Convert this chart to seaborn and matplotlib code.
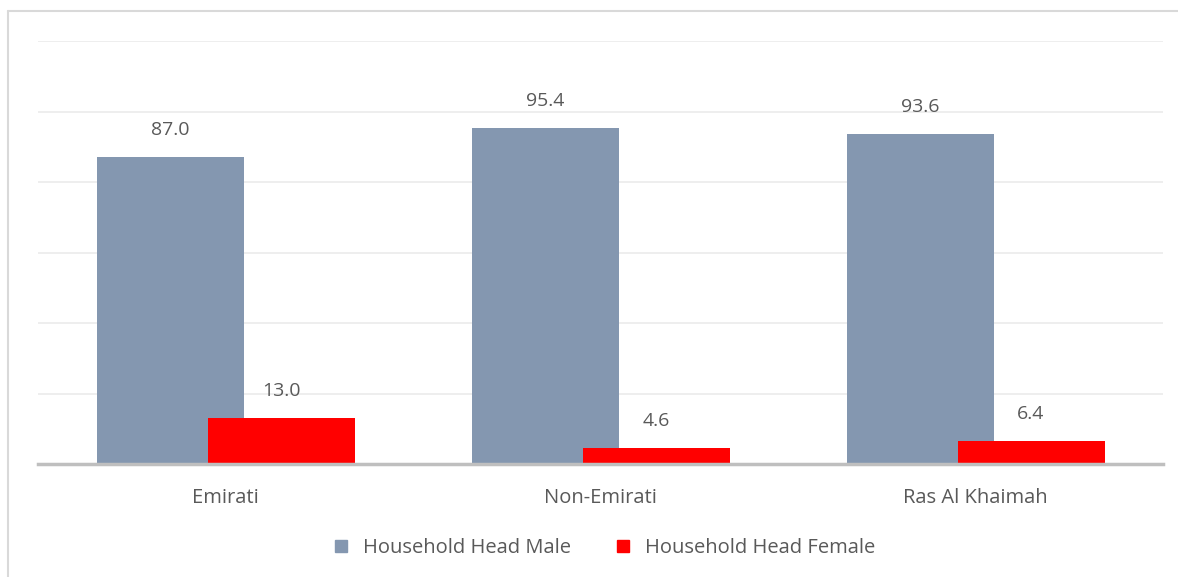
import numpy as np
import pandas as pd
import matplotlib
matplotlib.use("Agg")
import matplotlib.pyplot as plt
import seaborn as sns
from matplotlib.patches import Patch
from matplotlib.lines import Line2D

# data
categories = ["Emirati", "Non-Emirati", "Ras Al Khaimah"]
male = [87.0, 95.4, 93.6]
female = [13.0, 4.6, 6.4]
series_names = ["Household Head Male", "Household Head Female"]

male_color = "#8497B0"
female_color = "#FF0000"
text_color = "#595959"

sns.set_theme(style="white")
plt.rcParams["font.family"] = ["Open Sans", "DejaVu Sans"]

fig = plt.figure(figsize=(11.78, 5.77), dpi=100)
fig.patch.set_linewidth(0)
ax = fig.add_axes([38 / 1178, 1 - 464 / 577, (1163 - 38) / 1178, (464 - 41) / 577])

pos = np.arange(len(categories))
offset = 0.148
bar_w = 0.392

df_m = pd.DataFrame({"x": pos - offset, "y": male})
df_f = pd.DataFrame({"x": pos + offset, "y": female})

sns.barplot(data=df_m, x="x", y="y", native_scale=True, width=bar_w,
            color=male_color, saturation=1, linewidth=0, ax=ax)
sns.barplot(data=df_f, x="x", y="y", native_scale=True, width=bar_w,
            color=female_color, saturation=1, linewidth=0, ax=ax)

for cont in ax.containers:
    ax.bar_label(cont, fmt="%.1f", padding=13, fontsize=14, color=text_color)

ax.set_xlim(-0.5, 2.5)
ax.set_ylim(0, 120)
ax.set_yticks(np.arange(0, 121, 20))
ax.set_yticklabels([])
ax.tick_params(axis="y", length=0)
ax.yaxis.grid(True, color="#EBEBEB", linewidth=1.2)
ax.set_axisbelow(True)
ax.set_xticks(pos)
ax.set_xticklabels(categories, fontsize=14.5, color=text_color)
ax.tick_params(axis="x", length=0, pad=17)
ax.set_xlabel("")
ax.set_ylabel("")
for s in ["top", "right", "left"]:
    ax.spines[s].set_visible(False)
ax.spines["bottom"].set_color("#BFBFBF")
ax.spines["bottom"].set_linewidth(2.5)

handles = [Patch(color=male_color), Patch(color=female_color)]
fig.legend(handles, series_names, loc="center", bbox_to_anchor=(605 / 1178, 1 - 548 / 577),
           ncol=2, frameon=False, fontsize=14.5, labelcolor=text_color,
           handlelength=0.6, handleheight=0.6, columnspacing=2.3, handletextpad=0.8)

# outer border of the chart area (only top and left edges are inside the image)
bx = 8 / 1178
by = 1 - 11 / 577
fig.add_artist(Line2D([bx, 1.0], [by, by], transform=fig.transFigure,
                      color="#D9D9D9", linewidth=1.5))
fig.add_artist(Line2D([bx, bx], [0.0, by], transform=fig.transFigure,
                      color="#D9D9D9", linewidth=1.5))

fig.savefig("out.png", dpi=100)
